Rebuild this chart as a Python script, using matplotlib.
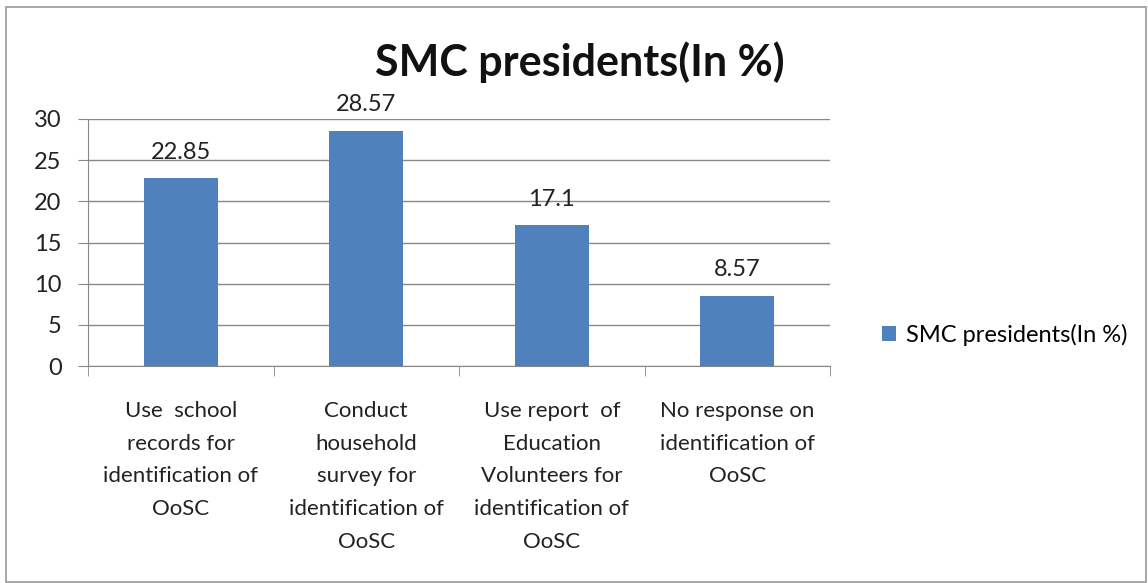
import matplotlib.pyplot as plt
from matplotlib.patches import Rectangle

# chart data
categories = ["Use  school\nrecords for\nidentification of\nOoSC",
              "Conduct\nhousehold\nsurvey for\nidentification of\nOoSC",
              "Use report  of\nEducation\nVolunteers for\nidentification of\nOoSC",
              "No response on\nidentification of\nOoSC"]
values = [22.85, 28.57, 17.1, 8.57]
value_labels = ["22.85", "28.57", "17.1", "8.57"]
series_name = "SMC presidents(In %)"
yticks = [0, 5, 10, 15, 20, 25, 30]

plt.rcParams['font.family'] = ['Lato', 'DejaVu Sans']
bar_color = '#4F81BD'

fig = plt.figure(figsize=(11.48, 5.83), dpi=100)
ax = fig.add_axes([0.0767, 0.372, 0.6463, 0.424])

x = list(range(len(values)))
bars = ax.bar(x, values, width=0.4, color=bar_color, label=series_name, zorder=3)

for xi, v, lab in zip(x, values, value_labels):
    ax.annotate(lab, (xi, v), xytext=(0, 11), textcoords='offset points',
                ha='center', va='bottom', fontsize=17, color='#222222')

ax.set_xlim(-0.5, len(values) - 0.5)
ax.set_ylim(0, 30)
ax.set_yticks(yticks)
ax.tick_params(axis='y', labelsize=17, length=7, color='#888888', pad=12, labelcolor='#222222')
ax.yaxis.grid(True, color='#888888', linewidth=1, zorder=0)

# category labels at centres, tick marks at boundaries
ax.set_xticks(x)
ax.set_xticklabels(categories, fontsize=16, linespacing=1.8, color='#222222')
ax.tick_params(axis='x', which='major', length=0, pad=25)
ax.set_xticks([i - 0.5 for i in range(len(values) + 1)], minor=True)
ax.tick_params(axis='x', which='minor', length=7, color='#888888')

for side in ['top', 'right']:
    ax.spines[side].set_visible(False)
ax.spines['left'].set_color('#888888')
ax.spines['bottom'].set_color('#888888')

fig.suptitle(series_name, fontsize=31, fontweight='bold', x=0.505, y=0.894,
             va='center', color='#111111')

fig.legend(handles=[bars], labels=[series_name], loc='center left',
           bbox_to_anchor=(0.75, 0.425), frameon=False, fontsize=17,
           handlelength=0.6, handleheight=0.6, handletextpad=0.4)

# outer chart border
fig.patches.append(Rectangle((0.005, 0.002), 0.993, 0.986, transform=fig.transFigure,
                             fill=False, edgecolor='#999999', linewidth=1.2))

fig.savefig('out.png', dpi=100)
